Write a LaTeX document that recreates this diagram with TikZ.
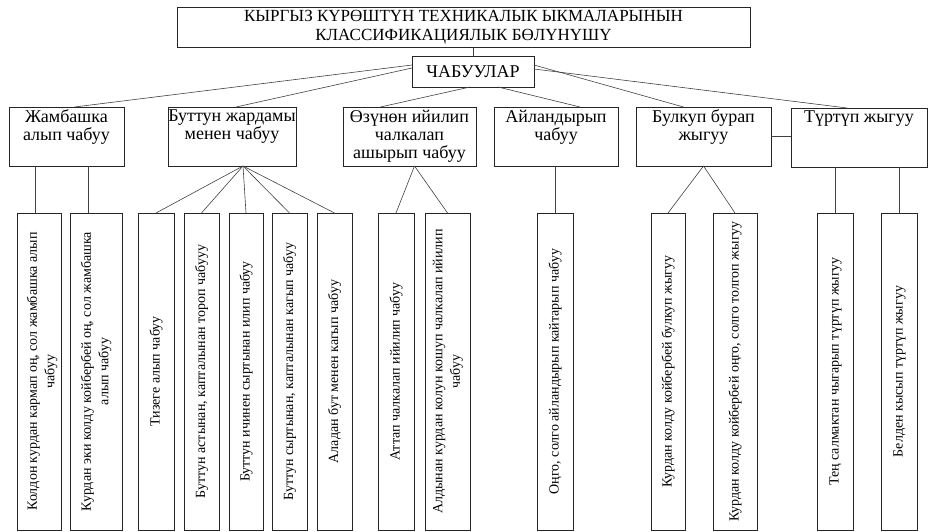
\documentclass[tikz,border=0pt]{standalone}
\usepackage{fontspec}
\setmainfont{Liberation Serif}
\usepackage{graphicx}
\usetikzlibrary{calc}

\newcommand{\toptext}[2]{\parbox[t][53pt][t]{#1}{\centering #2}}
\newcommand{\uptext}[1]{\rotatebox{90}{\begin{tabular}{@{}c@{}}#1\end{tabular}}}

\begin{document}
\begin{tikzpicture}[x=1pt, y=-1pt,
    headbox/.style={draw=black!85, line width=0.8pt, outer sep=0pt, align=center, font=\fontsize{17}{19}\selectfont},
    groupbox/.style={draw=black!85, line width=0.8pt, outer sep=0pt, anchor=north west, inner xsep=0pt, inner ysep=3pt, font=\fontsize{18}{18}\selectfont},
    leafbox/.style={draw=black!85, line width=0.8pt, outer sep=0pt, anchor=north west, inner sep=0pt, minimum width=#1, minimum height=317pt, font=\fontsize{14}{17.5}\selectfont},
    link/.style={draw=black!75, line width=0.6pt}
]
\useasboundingbox (0,0) rectangle (928,532);

% title and root
\node[headbox, minimum width=573pt, minimum height=35pt] (title) at (463.5,27.5) {КЫРГЫЗ КҮРӨШТҮН ТЕХНИКАЛЫК ЫКМАЛАРЫНЫН\\КЛАССИФИКАЦИЯЛЫК БӨЛҮНҮШҮ};
\node[headbox, minimum width=122pt, minimum height=31pt, font=\fontsize{18}{18}\selectfont] (attacks) at (473,71.5) {ЧАБУУЛАР};

% groups
\node[groupbox] (hip) at (9,107) {\toptext{115pt}{Жамбашка\\алып чабуу}};
\node[groupbox] (leg) at (168,107) {\toptext{128pt}{Буттун жардамы\\менен чабуу}};
\node[groupbox] (arch) at (343,107) {\toptext{133pt}{Өзүнөн ийилип\\чалкалап\\ашырып чабуу}};
\node[groupbox] (turn) at (494,107) {\toptext{124pt}{Айландырып\\чабуу}};
\node[groupbox] (jerk) at (636,107) {\toptext{135pt}{Булкуп бурап\\жыгуу}};
\node[groupbox] (push) at (791,108) {\toptext{136pt}{Түртүп жыгуу}};

% leaves
\node[leafbox=44pt] (hipA) at (17,213) {\hspace{6pt}\uptext{Колдон курдан кармап оң, сол жамбашка алып\\чабуу}};
\node[leafbox=52pt] (hipB) at (70,213) {\uptext{Курдан эки колду койбербей оң, сол жамбашка\\алып чабуу}};
\node[leafbox=36pt] (legA) at (138,213) {\uptext{Тизеге алып чабуу}};
\node[leafbox=35pt] (legB) at (184,213) {\uptext{Буттун астынан, капталынан тороп чабууу}};
\node[leafbox=34pt] (legC) at (229,213) {\uptext{Буттун ичинен сыртынан илип чабуу}};
\node[leafbox=35pt] (legD) at (272,213) {\uptext{Буттун сыртынан, капталынан кагып чабуу}};
\node[leafbox=35pt] (legE) at (317,213) {\uptext{Аладан бут менен кагып чабуу}};
\node[leafbox=36pt] (archA) at (378,213) {\uptext{Аттап чалкалап ийилип чабуу}};
\node[leafbox=45pt] (archB) at (425,213) {\uptext{Алдынан курдан колун кошуп чалкалап ийилип\\чабуу}};
\node[leafbox=36pt] (turnA) at (537,213) {\uptext{Оңго, солго айландырып кайтарып чабуу}};
\node[leafbox=34pt] (jerkA) at (651,213) {\uptext{Курдан колду койбербей булкуп жыгуу}};
\node[leafbox=44pt] (jerkB) at (713,213) {\uptext{Курдан колду койбербей оңго, солго толгоп жыгуу}};
\node[leafbox=36pt] (pushA) at (817,213) {\uptext{Тең салмактан чыгарып түртүп жыгуу}};
\node[leafbox=36pt] (pushB) at (881,213) {\uptext{Белден кысып түртүп жыгуу}};

% root links
\draw[link] (attacks.north) -- (attacks.north |- title.south);
\draw[link] ([yshift=-9pt]attacks.north west) -- ([xshift=8pt]hip.north);
\draw[link] ([yshift=-12pt]attacks.north west) -- ([xshift=4pt]leg.north);
\draw[link] ([xshift=-3pt]attacks.south) -- ([xshift=-29pt]arch.north);
\draw[link] ([xshift=25pt]attacks.south) -- ([xshift=24pt]turn.north);
\draw[link] ([yshift=-9pt]attacks.north east) -- ([xshift=-20pt]jerk.north);
\draw[link] ([yshift=-13pt]attacks.north east) -- ([xshift=-12pt]push.north);

% group links
\draw[link] ([xshift=-4pt]hipA.north) -- ([xshift=-4pt]hipA.north |- hip.south);
\draw[link] ([xshift=-8pt]hipB.north) -- ([xshift=-8pt]hipB.north |- hip.south);
\foreach \leaf in {legA,legB,legC,legD,legE}
    \draw[link] ([xshift=11pt]leg.south) -- (\leaf.north);
\foreach \leaf in {archA,archB}
    \draw[link] ([xshift=5pt]arch.south) -- (\leaf.north);
\draw[link] (turnA.north) -- (turnA.north |- turn.south);
\foreach \leaf in {jerkA,jerkB}
    \draw[link] (jerk.south) -- (\leaf.north);
\draw[link] (pushA.north) -- (pushA.north |- push.south);
\draw[link] (pushB.north) -- (pushB.north |- push.south);
\draw[link] (jerk.east) -- (jerk.east -| push.west);
\end{tikzpicture}
\end{document}
